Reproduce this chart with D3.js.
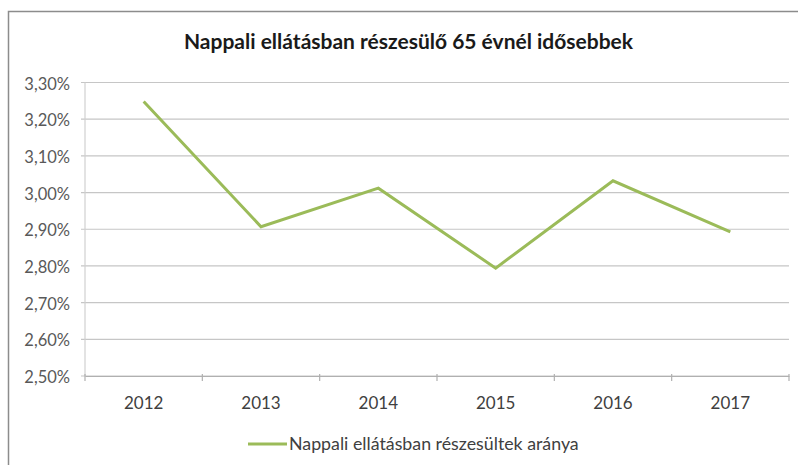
<!DOCTYPE html>
<html><head><meta charset="utf-8">
<script src="https://cdn.jsdelivr.net/npm/d3@7"></script>
<style>body{margin:0;background:#fff}svg{display:block}</style>
</head><body>
<svg id="c" width="798" height="465"></svg>
<script>
const title = "Nappali ellátásban részesülő 65 évnél idősebbek";
const seriesName = "Nappali ellátásban részesültek aránya";
const years = ["2012","2013","2014","2015","2016","2017"];
const values = [3.248, 2.907, 3.012, 2.794, 3.032, 2.893];
const yTicks = [2.5,2.6,2.7,2.8,2.9,3.0,3.1,3.2,3.3];

const svg = d3.select("#c");
const font = "Lato, 'Open Sans', sans-serif";
const m = {l:85, r:789, t:82.5, b:376};

// frame
svg.append("rect").attr("x",8.5).attr("y",11.5).attr("width",800).attr("height",470)
  .attr("fill","#fff").attr("stroke","#8c8c8c").attr("stroke-width",1.5);

const x = d3.scaleBand().domain(years).range([m.l,m.r]);
const y = d3.scaleLinear().domain([2.5,3.3]).range([m.b,m.t]);
const fmt = v => d3.format(".2f")(v).replace(".",",") + "%";

// gridlines
svg.append("g").selectAll("line").data(yTicks).join("line")
  .attr("x1",m.l-4).attr("x2",m.r).attr("y1",d=>y(d)).attr("y2",d=>y(d))
  .attr("stroke","#c6c6c6").attr("stroke-width",1.2);

// y axis line
svg.append("line").attr("x1",m.l).attr("x2",m.l).attr("y1",m.t).attr("y2",m.b)
  .attr("stroke","#d0d0d0").attr("stroke-width",1.2);

// y labels
svg.append("g").selectAll("text").data(yTicks).join("text")
  .attr("x",70).attr("y",d=>y(d)+7).attr("text-anchor","end")
  .attr("font-family",font).attr("font-size",16.5).attr("fill","#595959")
  .text(fmt);

// x axis
const xa = svg.append("g").attr("transform",`translate(0,${m.b})`)
  .call(d3.axisBottom(x).tickSize(0).tickPadding(0));
xa.select(".domain").attr("stroke","#b0b0b0").attr("stroke-width",1.2);
xa.selectAll("text").remove();
const bounds = years.map(d=>x(d)).concat([x.range()[1]]);
svg.append("g").selectAll("line").data(bounds).join("line")
  .attr("x1",d=>d).attr("x2",d=>d).attr("y1",m.b-2).attr("y2",m.b+5)
  .attr("stroke","#b0b0b0").attr("stroke-width",1.2);
svg.append("g").selectAll("text").data(years).join("text")
  .attr("x",d=>x(d)+x.bandwidth()/2).attr("y",409).attr("text-anchor","middle")
  .attr("font-family",font).attr("font-size",17).attr("fill","#404040")
  .text(d=>d);

// line
const line = d3.line().x((d,i)=>x(years[i])+x.bandwidth()/2).y(d=>y(d));
svg.append("path").datum(values).attr("d",line)
  .attr("fill","none").attr("stroke","#9bbb59").attr("stroke-width",3)
  .attr("stroke-linejoin","miter");

// title
svg.append("text").attr("x",408.5).attr("y",49).attr("text-anchor","middle")
  .attr("font-family",font).attr("font-weight","bold").attr("font-size",21)
  .attr("fill","#1a1a1a").text(title);

// legend
svg.append("line").attr("x1",248).attr("x2",287).attr("y1",444).attr("y2",444)
  .attr("stroke","#9bbb59").attr("stroke-width",3);
svg.append("text").attr("x",289).attr("y",449.5)
  .attr("font-family",font).attr("font-size",17.8).attr("fill","#404040")
  .text(seriesName);
</script>
</body></html>
